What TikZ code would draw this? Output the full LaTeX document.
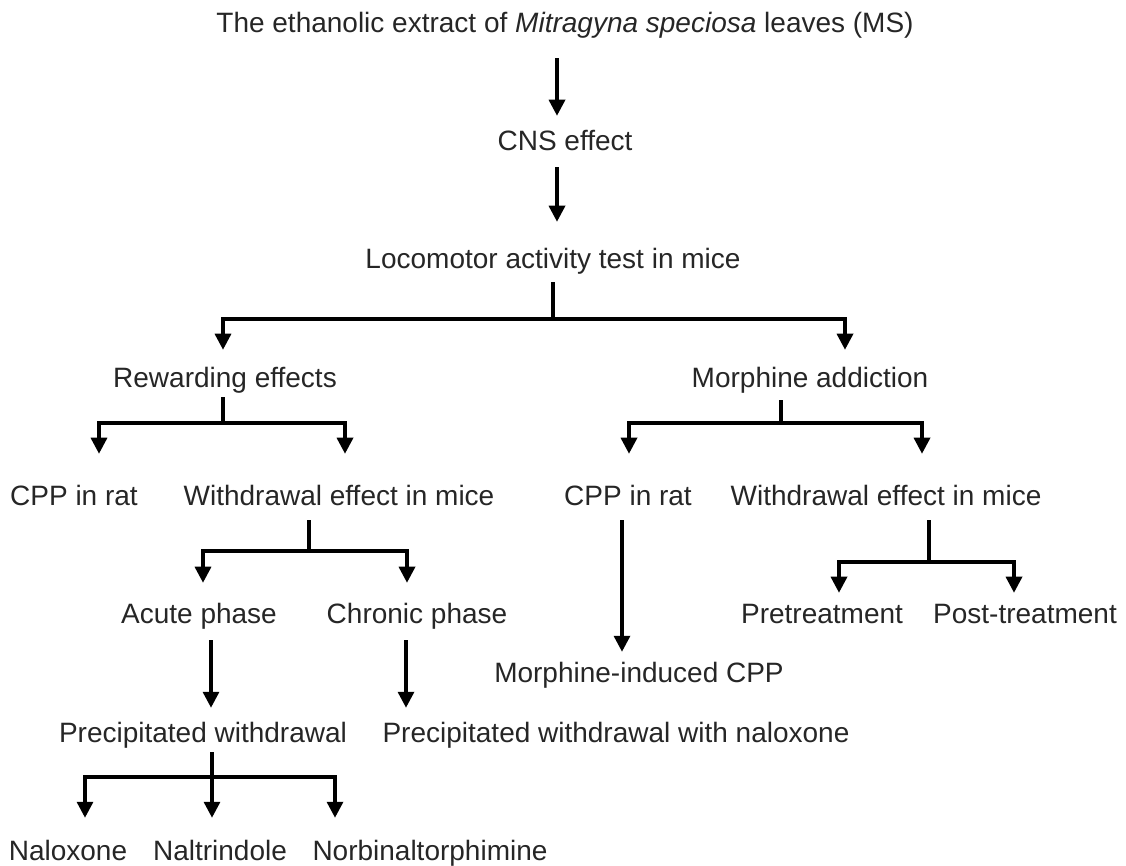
\documentclass[tikz,border=0pt]{standalone}
\usepackage{fontspec}
\setmainfont{Liberation Sans}
\usetikzlibrary{arrows.meta}
\tikzset{
  lbl/.style={inner sep=0pt, text height=15pt, text depth=0pt, font=\fontsize{21}{25}\selectfont, text=black!85},
  ln/.style={line width=2.5pt},
  arr/.style={line width=2.5pt, -{Triangle[width=12pt,length=12pt]}},
}
\begin{document}
\begin{tikzpicture}[x=0.75pt, y=-0.75pt]
\useasboundingbox (0,0) rectangle (1126,865);
% nodes
\node[lbl] (title) at (565,22) {The ethanolic extract of \textit{Mitragyna speciosa} leaves (MS)};
\node[lbl] (cns) at (565,140) {CNS effect};
\node[lbl] (loco) at (553,258) {Locomotor activity test in mice};
\node[lbl] (reward) at (225,377) {Rewarding effects};
\node[lbl] (morph) at (810,377) {Morphine addiction};
\node[lbl] (cpp1) at (74,495) {CPP in rat};
\node[lbl] (withd1) at (339,495) {Withdrawal effect in mice};
\node[lbl] (cpp2) at (628,495) {CPP in rat};
\node[lbl] (withd2) at (886,495) {Withdrawal effect in mice};
\node[lbl] (acute) at (199,613) {Acute phase};
\node[lbl] (chronic) at (417,613) {Chronic phase};
\node[lbl] (pre) at (822,613) {Pretreatment};
\node[lbl] (post) at (1025,613) {Post-treatment};
\node[lbl] (mcpp) at (639,672) {Morphine-induced CPP};
\node[lbl] (prec1) at (203,732) {Precipitated withdrawal};
\node[lbl] (prec2) at (616,732) {Precipitated withdrawal with naloxone};
\node[lbl] (nalox) at (68,850) {Naloxone};
\node[lbl] (naltr) at (220,850) {Naltrindole};
\node[lbl] (norbi) at (430,850) {Norbinaltorphimine};
% connector x positions and junctions
\coordinate (a1) at (557,0);
\coordinate (J1) at (553,319);
\coordinate (xL1) at (223,0);
\coordinate (xR1) at (845,0);
\coordinate (J2) at (223,423);
\coordinate (xc1) at (99,0);
\coordinate (xw1) at (345,0);
\coordinate (J3) at (781,423);
\coordinate (xc2) at (629,0);
\coordinate (xw2) at (922,0);
\coordinate (J4) at (309,551);
\coordinate (xac) at (203,0);
\coordinate (xch) at (407,0);
\coordinate (xa2) at (211,0);
\coordinate (xc3) at (406,0);
\coordinate (J5) at (212,777);
\coordinate (xn1) at (85,0);
\coordinate (xn3) at (335,0);
\coordinate (xm) at (622,0);
\coordinate (J6) at (929,562);
\coordinate (xpre) at (839,0);
\coordinate (xpost) at (1014,0);
% connectors
\draw[arr] ([yshift=-19.5pt]title.south -| a1) -- ([yshift=10.5pt]cns.north -| a1);
\draw[arr] ([yshift=-12.75pt]cns.south -| a1) -- ([yshift=19.5pt]loco.north -| a1);
\draw[ln] ([yshift=-10.5pt]loco.south -| J1) -- (J1);
\draw[arr] (J1) -| ([yshift=12.75pt]reward.north -| xL1);
\draw[arr] (J1) -| ([yshift=12.75pt]morph.north -| xR1);
\draw[ln] ([yshift=-7.5pt]reward.south -| J2) -- (J2);
\draw[arr] (J2) -| ([yshift=23.25pt]cpp1.north -| xc1);
\draw[arr] (J2) -| ([yshift=23.25pt]withd1.north -| xw1);
\draw[ln] ([yshift=-9.75pt]morph.south -| J3) -- (J3);
\draw[arr] (J3) -| ([yshift=23.25pt]cpp2.north -| xc2);
\draw[arr] (J3) -| ([yshift=23.25pt]withd2.north -| xw2);
\draw[ln] ([yshift=-11.25pt]withd1.south -| J4) -- (J4);
\draw[arr] (J4) -| ([yshift=15pt]acute.north -| xac);
\draw[arr] (J4) -| ([yshift=15pt]chronic.north -| xch);
\draw[arr] ([yshift=-12.75pt]acute.south -| xa2) -- ([yshift=10.5pt]prec1.north -| xa2);
\draw[arr] ([yshift=-12.75pt]chronic.south -| xc3) -- ([yshift=10.5pt]prec2.north -| xc3);
\draw[ln] ([yshift=-7.5pt]prec1.south -| J5) -- (J5);
\draw[arr] (J5) -| ([yshift=16.5pt]nalox.north -| xn1);
\draw[arr] (J5) -- ([yshift=16.5pt]naltr.north -| J5);
\draw[arr] (J5) -| ([yshift=16.5pt]norbi.north -| xn3);
\draw[arr] ([yshift=-11.25pt]cpp2.south -| xm) -- ([yshift=7.5pt]mcpp.north -| xm);
\draw[ln] ([yshift=-11.25pt]withd2.south -| J6) -- (J6);
\draw[arr] (J6) -| ([yshift=7.5pt]pre.north -| xpre);
\draw[arr] (J6) -| ([yshift=7.5pt]post.north -| xpost);
\end{tikzpicture}
\end{document}
